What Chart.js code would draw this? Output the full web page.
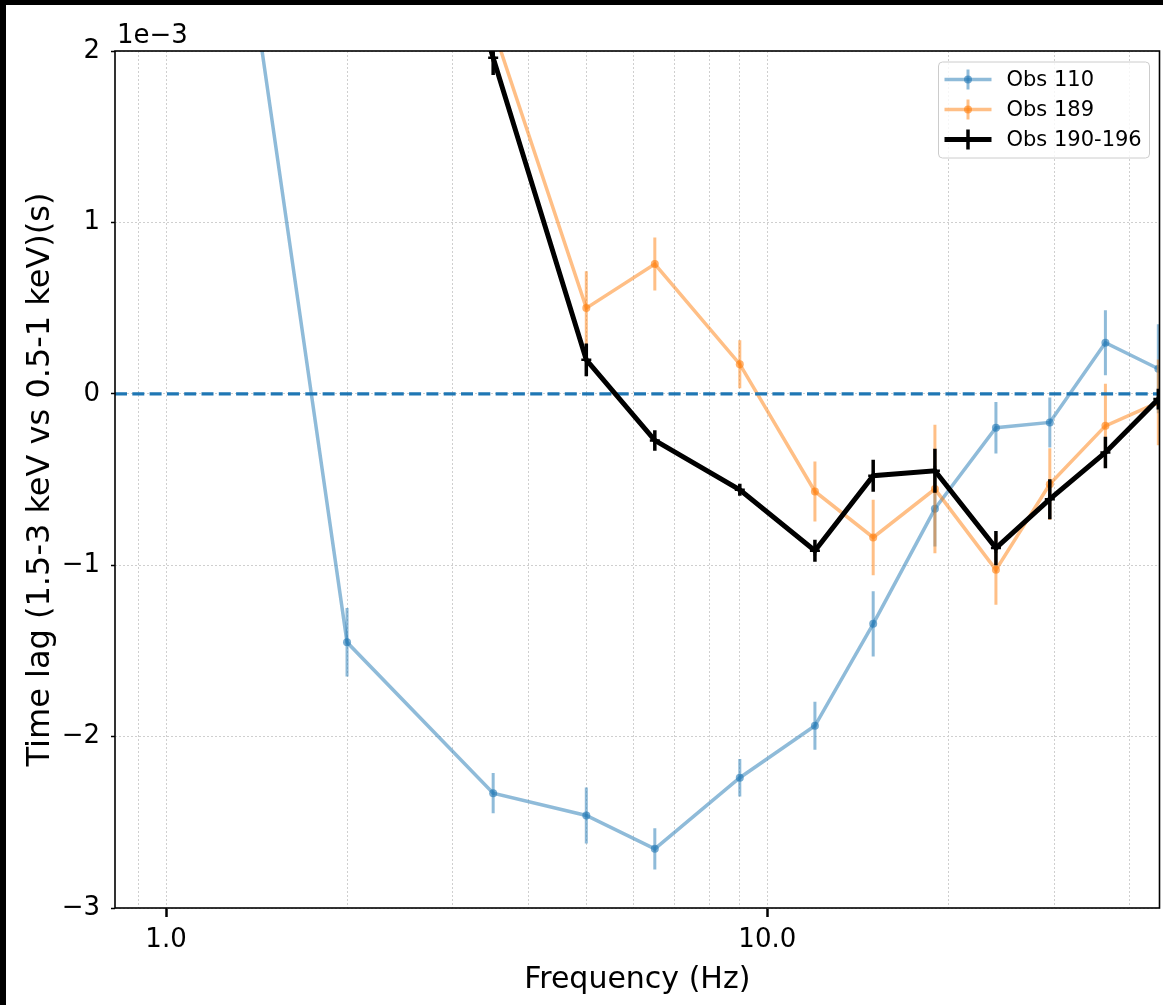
<!DOCTYPE html>
<html>
<head>
<meta charset="utf-8">
<script src="https://cdn.jsdelivr.net/npm/chart.js@4.4.0/dist/chart.umd.min.js"></script>
<style>
    html, body { margin: 0; padding: 0; background: #000; overflow: hidden; }
    #wrap { position: absolute; left: 6px; top: 5px; width: 1161px; height: 1000px; background: #fff; }
    #lagChart { display: block; }
</style>
</head>
<body>
<div id="wrap"><canvas id="lagChart" width="1161" height="1000"></canvas></div>
<script>
// frequency bins (Hz)
const freqs = [1.0, 2.0, 3.5, 5.0, 6.5, 9.0, 12.0, 15.0, 19.0, 24.0, 29.5, 36.5, 44.7];

// time lags, in units of 1e-3 s, and their errors (null = no point)
const obs110    = [5.90, -1.45, -2.33, -2.46, -2.655, -2.24, -1.937, -1.342, -0.671, -0.198, -0.167, 0.298, 0.146];
const obs110Err = [0.30, 0.20, 0.117, 0.163, 0.12, 0.11, 0.14, 0.19, 0.22, 0.15, 0.146, 0.19, 0.26];

const obs189    = [null, 5.2, 2.135, 0.50, 0.757, 0.173, -0.570, -0.838, -0.556, -1.027, -0.527, -0.187, -0.05];
const obs189Err = [null, 0.3, 0.2, 0.215, 0.155, 0.14, 0.175, 0.22, 0.375, 0.204, 0.21, 0.245, 0.25];

const obs190    = [null, 4.9, 1.96, 0.198, -0.272, -0.56, -0.916, -0.478, -0.449, -0.90, -0.615, -0.342, -0.031];
const obs190Err = [null, 0.1, 0.1, 0.095, 0.06, 0.035, 0.064, 0.093, 0.128, 0.1, 0.117, 0.092, 0.06];

const seriesLabels = ['Obs 110', 'Obs 189', 'Obs 190-196'];

// axis ticks
const xGridTicks = [0.9, 1, 2, 3, 4, 5, 6, 7, 8, 9, 10, 20, 30, 40];
const xMajorTicks = [1, 10];
const xTickLabels = ['1.0', '10.0'];
const yTickValues = [-3, -2, -1, 0, 1, 2];
const yTickLabels = ['\u22123', '\u22122', '\u22121', '0', '1', '2'];
const SCALE = 1e-3;
const zeroLag = 0;

const FONT = "'DejaVu Sans', sans-serif";

function toPoints(vals, errs) {
    return freqs
        .map((f, i) => ({ x: f, y: vals[i] === null ? null : vals[i] * SCALE, err: errs[i] === null ? 0 : errs[i] * SCALE }))
        .filter(p => p.y !== null);
}

// vertical error bars, drawn right after each dataset
const errorBars = {
    id: 'errorBars',
    afterDatasetDraw(chart, args) {
        const ds = chart.data.datasets[args.index];
        const xs = chart.scales.x, ys = chart.scales.y;
        const a = chart.chartArea;
        const ctx = chart.ctx;
        ctx.save();
        ctx.beginPath();
        ctx.rect(a.left, a.top, a.right - a.left, a.bottom - a.top);
        ctx.clip();
        ctx.strokeStyle = ds.borderColor;
        ctx.lineWidth = ds.errWidth;
        ds.data.forEach(p => {
            const px = xs.getPixelForValue(p.x);
            ctx.beginPath();
            ctx.moveTo(px, ys.getPixelForValue(p.y - p.err));
            ctx.lineTo(px, ys.getPixelForValue(p.y + p.err));
            ctx.stroke();
        });
        // dashed zero line sits above Obs 110 / 189 but under the black series
        if (args.index === 1) {
            const y0 = ys.getPixelForValue(zeroLag);
            ctx.strokeStyle = '#1f77b4';
            ctx.lineWidth = 3.3;
            ctx.setLineDash([12, 5.3]);
            ctx.beginPath();
            ctx.moveTo(a.left, y0);
            ctx.lineTo(a.right, y0);
            ctx.stroke();
        }
        ctx.restore();
    }
};

// spines, offset text and legend box
const frame = {
    id: 'frame',
    afterDraw(chart) {
        const ctx = chart.ctx;
        const a = chart.chartArea;
        ctx.save();
        ctx.strokeStyle = '#000';
        ctx.lineWidth = 1.6;
        ctx.strokeRect(a.left, a.top, a.right - a.left, a.bottom - a.top);

        ctx.fillStyle = '#000';
        ctx.font = '26px ' + FONT;
        ctx.textBaseline = 'alphabetic';
        ctx.textAlign = 'left';
        ctx.fillText('1e\u22123', a.left + 2, a.top - 8);

        // legend
        const w = 211, h = 96;
        const bx = a.right - 10 - w, by = a.top + 11;
        ctx.beginPath();
        ctx.roundRect(bx, by, w, h, 4);
        ctx.fillStyle = 'rgba(255,255,255,0.8)';
        ctx.fill();
        ctx.strokeStyle = '#cccccc';
        ctx.lineWidth = 1;
        ctx.stroke();

        chart.data.datasets.forEach((ds, i) => {
            const cy = by + 17.5 + i * 30;
            const x0 = bx + 6, x1 = bx + 53, xc = (x0 + x1) / 2;
            ctx.strokeStyle = ds.borderColor;
            ctx.lineWidth = ds.borderWidth;
            ctx.beginPath();
            ctx.moveTo(x0, cy);
            ctx.lineTo(x1, cy);
            ctx.stroke();
            ctx.lineWidth = ds.errWidth;
            ctx.beginPath();
            ctx.moveTo(xc, cy - 10);
            ctx.lineTo(xc, cy + 10);
            ctx.stroke();
            if (ds.pointStyle === 'circle') {
                ctx.fillStyle = ds.pointBackgroundColor;
                ctx.beginPath();
                ctx.arc(xc, cy, ds.pointRadius, 0, Math.PI * 2);
                ctx.fill();
            }
            ctx.fillStyle = '#000';
            ctx.font = '21px ' + FONT;
            ctx.textBaseline = 'middle';
            ctx.fillText(ds.label, bx + 68, cy + 1);
        });
        ctx.restore();
    }
};

const ctx = document.getElementById('lagChart').getContext('2d');
new Chart(ctx, {
    type: 'line',
    data: {
        datasets: [{
            label: seriesLabels[0],
            data: toPoints(obs110, obs110Err),
            borderColor: 'rgba(31,119,180,0.5)',
            borderWidth: 3.5,
            errWidth: 3,
            pointStyle: 'circle',
            pointRadius: 4,
            pointBackgroundColor: 'rgba(31,119,180,0.6)',
            pointBorderWidth: 0,
            order: 3
        }, {
            label: seriesLabels[1],
            data: toPoints(obs189, obs189Err),
            borderColor: 'rgba(255,127,14,0.5)',
            borderWidth: 3.5,
            errWidth: 3,
            pointStyle: 'circle',
            pointRadius: 4,
            pointBackgroundColor: 'rgba(255,127,14,0.6)',
            pointBorderWidth: 0,
            order: 2
        }, {
            label: seriesLabels[2],
            data: toPoints(obs190, obs190Err),
            borderColor: '#000',
            borderWidth: 5,
            errWidth: 3.5,
            pointStyle: 'cross',
            pointRadius: 5,
            pointBorderColor: '#000',
            pointBorderWidth: 2.5,
            order: 1
        }]
    },
    options: {
        responsive: false,
        animation: false,
        events: [],
        clip: 0,
        elements: { line: { tension: 0 } },
        layout: { padding: { top: 46, right: 0, left: 0, bottom: 0 } },
        plugins: { legend: { display: false }, tooltip: { enabled: false } },
        scales: {
            x: {
                type: 'logarithmic',
                min: 0.8225,
                max: 44.9,
                afterBuildTicks: s => { s.ticks = xGridTicks.map(v => ({ value: v })); },
                afterFit: s => { s.height = 97; s.paddingLeft = 0; s.paddingRight = 0; },
                ticks: {
                    autoSkip: false,
                    maxRotation: 0,
                    padding: 8,
                    color: '#000',
                    font: { family: FONT, size: 26 },
                    callback: v => {
                        const k = xMajorTicks.indexOf(v);
                        return k >= 0 ? xTickLabels[k] : '';
                    }
                },
                grid: {
                    color: '#cfcfcf',
                    lineWidth: 1,
                    tickLength: 9,
                    tickWidth: 2.5,
                    tickColor: c => (c.tick && xMajorTicks.includes(c.tick.value)) ? '#000' : 'rgba(0,0,0,0)'
                },
                border: { display: false, dash: [2, 2] },
                title: {
                    display: true,
                    text: 'Frequency (Hz)',
                    color: '#000',
                    font: { family: FONT, size: 30 },
                    padding: { top: 0, bottom: 7 }
                }
            },
            y: {
                min: -3 * SCALE,
                max: 2 * SCALE,
                afterBuildTicks: s => { s.ticks = yTickValues.map(v => ({ value: v * SCALE })); },
                afterFit: s => { s.width = 109; s.paddingTop = 0; s.paddingBottom = 0; },
                ticks: {
                    padding: 11,
                    color: '#000',
                    font: { family: FONT, size: 26 },
                    callback: (v, i) => yTickLabels[i]
                },
                grid: {
                    color: '#cfcfcf',
                    lineWidth: 1,
                    tickLength: 4,
                    tickWidth: 1.5,
                    tickColor: '#000'
                },
                border: { display: false, dash: [2, 2] },
                title: {
                    display: true,
                    text: 'Time lag (1.5-3 keV vs 0.5-1 keV)(s)',
                    color: '#000',
                    font: { family: FONT, size: 32 },
                    padding: { top: 15.5, bottom: 0 }
                }
            }
        }
    },
    plugins: [errorBars, frame]
});
</script>
</body>
</html>
